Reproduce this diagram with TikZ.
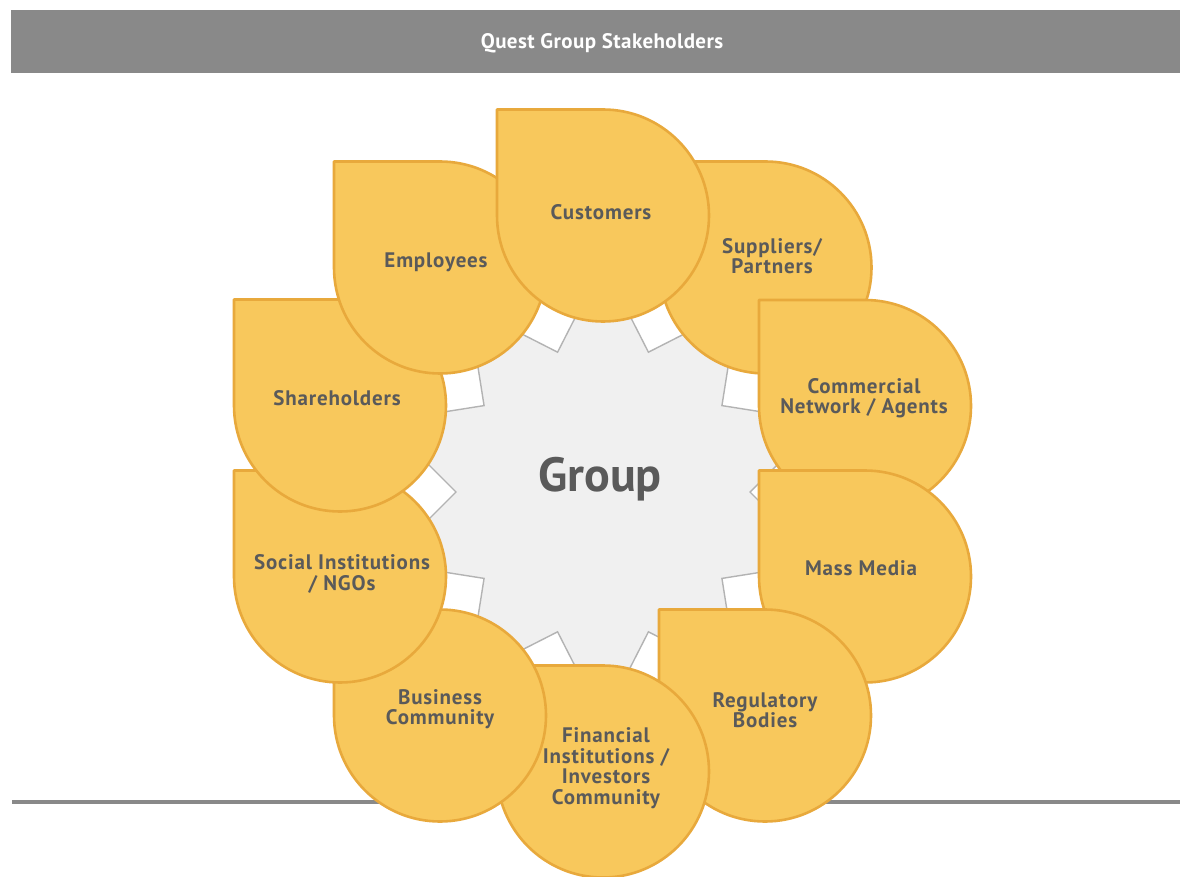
\documentclass[tikz,border=0pt]{standalone}
\usepackage{fontspec}
\setmainfont{PT Sans}
\definecolor{hdrgray}{HTML}{898989}
\definecolor{petalfill}{HTML}{F8C85C}
\definecolor{petalline}{HTML}{E8A93C}
\definecolor{labelgray}{HTML}{5A5A5A}
\definecolor{gearfill}{HTML}{F0F0F0}
\definecolor{gearline}{HTML}{B3B3B3}
\newcommand\petalpath[2]{\filldraw[petal] (#1-106,-#2+106) -- (#1,-#2+106) arc[start angle=90,end angle=-180,radius=106] -- cycle;}
\begin{document}
\begin{tikzpicture}[x=1pt,y=1pt,
  petal/.style={fill=petalfill,draw=petalline,line width=2.6pt,line join=round},
  lbl/.style={text=labelgray,font=\fontsize{21}{20.5}\selectfont\bfseries\addfontfeature{LetterSpace=4},align=center,inner sep=0pt},
  notch/.style={fill=white,draw=gearline,line width=1.4pt},
  titletext/.style={text=white,font=\fontsize{21}{22}\selectfont\bfseries\addfontfeature{LetterSpace=2},inner sep=0pt}]
\useasboundingbox (0,0) rectangle (1180,-877);
\fill[white] (0,0) rectangle (1180,-877);
% header
\fill[hdrgray] (11,-10) rectangle (1180,-73);
\node[titletext] (title) at (602,-43) {Quest Group Stakeholders};
% bottom rule
\coordinate (ruleL) at (12,-802);
\coordinate (ruleR) at (1180,-802);
\draw[hdrgray,line width=4pt] (ruleL) -- (ruleR);
% central gear
\fill[gearfill] (603,-492) circle (212);
\foreach \t in {18,54,90,126,162,198,234,270,306,342}{
  \pgfmathsetmacro\p{90-\t}
  \filldraw[notch,shift={(603,-492)}] (\p:147) -- ++(\p+45:75) -- ++(\p-45:75) -- ++(\p-135:75) -- cycle;
}
\node[text=labelgray,font=\fontsize{48}{50}\selectfont\bfseries,inner sep=0pt,anchor=base] (group) at (600,-491) {Group};
% petals (drawing order matters)
\petalpath{765.5}{267.5}
\petalpath{865}{406}
\petalpath{865}{576.5}
\petalpath{765}{715.5}
\petalpath{603}{771.5}
\petalpath{440}{715.5}
\petalpath{340}{576.5}
\petalpath{340}{405.5}
\petalpath{440}{267.5}
\petalpath{603}{215.5}
% labels
\node[lbl] (cust) at (601,-212) {Customers};
\node[lbl] (empl) at (436,-262) {Employees};
\node[lbl] (supp) at (772,-256) {Suppliers/\\Partners};
\node[lbl] (comm) at (864,-398) {Commercial\\Network / Agents};
\node[lbl] (media) at (861,-568) {Mass Media};
\node[lbl] (reg) at (765,-710) {Regulatory\\Bodies};
\node[lbl] (fin) at (606,-768) {Financial\\Institutions /\\Investors\\Community};
\node[lbl] (bus) at (440,-709) {Business\\Community};
\node[lbl] (soc) at (342,-574) {Social Institutions\\/ NGOs};
\node[lbl] (share) at (337,-398) {Shareholders};
\end{tikzpicture}
\end{document}
